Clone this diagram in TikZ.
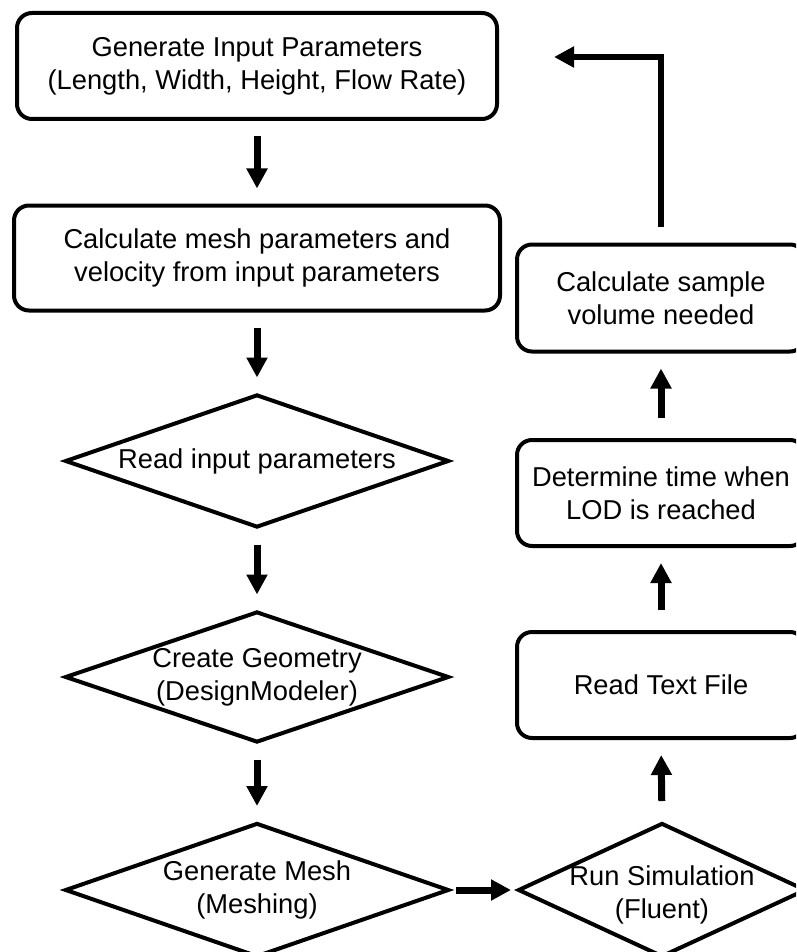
\documentclass[tikz,border=0pt]{standalone}
\usepackage{fontspec}
\setmainfont{Liberation Sans}
\usetikzlibrary{shapes.geometric}
\usetikzlibrary{arrows.meta}

\begin{document}
\begin{tikzpicture}[x=1pt,y=-1pt,font=\fontsize{27.3}{33}\selectfont,
	bx/.style={draw, line width=4pt, rounded corners=15pt, align=center, inner sep=0pt},
	dm/.style={draw, diamond, aspect=2.9, line width=4pt, align=center, inner sep=0pt, minimum width=384pt, minimum height=133pt},
	ar/.style={line width=7pt, -{Triangle[width=20pt,length=20pt]}, shorten <=15pt, shorten >=15pt},
	up/.style={ar, shorten <=20pt}]
\useasboundingbox (0,0) rectangle (796,952);
\clip (0,0) rectangle (796,952);

% left column
\node (gen) at (257,66) [bx, minimum width=480pt, minimum height=106pt] {Generate Input Parameters\\(Length, Width, Height, Flow Rate)};
\node (calcp) at (257,258) [bx, minimum width=486pt, minimum height=105pt] {Calculate mesh parameters and\\velocity from input parameters};
\node (readp) at (257,461) [dm] {Read input parameters};
\node (geom) at (257,677) [dm, minimum height=131pt] {Create Geometry\\(DesignModeler)};
\node (mesh) at (257,890) [dm, minimum height=134pt] {Generate Mesh\\(Meshing)};

% right column
\node (sim) at (662,890) [dm, aspect=2.15, minimum width=288pt, minimum height=134pt, label={[align=center,yshift=-5pt]center:Run Simulation\\(Fluent)}] {};
\node (readf) at (661,685) [bx, minimum width=288pt, minimum height=106pt] {Read Text File};
\node (lod) at (661,493) [bx, minimum width=288pt, minimum height=106pt] {Determine time when\\LOD is reached};
\node (vol) at (661,298) [bx, minimum width=288pt, minimum height=107pt] {Calculate sample\\volume needed};

\foreach \a/\b in {gen/calcp, calcp/readp, readp/geom, geom/mesh} {
\draw[ar] (\a.south) -- (\b.north);
}
\draw[ar, shorten <=5pt, shorten >=5pt] (mesh.east) -- (sim.west);
\foreach \a/\b in {sim/readf, readf/lod, lod/vol} {
\draw[up] (\a.north) -- (\b.south);
}
\draw[ar, line width=5.5pt, shorten <=16pt, shorten >=55pt] (vol.north) |- ([yshift=9pt]gen.east);
\end{tikzpicture}
\end{document}
